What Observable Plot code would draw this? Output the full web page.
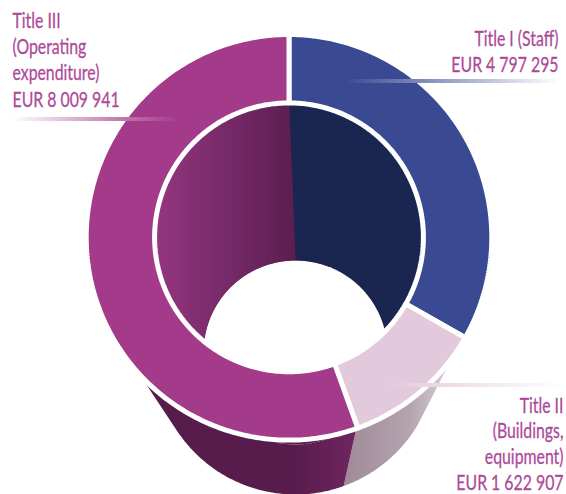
<!DOCTYPE html>
<html>
<head>
<meta charset="utf-8">
<style>
  html, body { margin: 0; padding: 0; background: #fff; }
  svg { display: block; }
</style>
<script src="https://cdn.jsdelivr.net/npm/d3@7"></script>
<script src="https://cdn.jsdelivr.net/npm/@observablehq/plot@0.6"></script>
</head>
<body>
<script>
// Budget by title, EUR
const titles = ["Title I", "Title II", "Title III"];
const amounts = [4797295, 1622907, 8009941];
const captions = [
  ["Title I (Staff)"],
  ["Title II", "(Buildings,", "equipment)"],
  ["Title III", "(Operating", "expenditure)"]
];

// Face and wall colours per title
const faceColors = ["#3a4a92", "#e3c9dc", "#a33b8a"];
const innerWalls = ["#1b2650", null, "url(#inner-purple)"];
const outerWalls = [null, "url(#outer-pale)", "url(#outer-purple)"];
const textColor = "#ac4a98";

// The ring sits on the mouth of a frustum narrowing towards a lower circle
const upperCircle = {cx: 288.5, cy: 236.8};
const lowerCircle = {cx: 295, cy: 352};
const faceOuter = 202.8, faceInner = 134.4, gap = 5;
const wallTop = {outer: 200.3, inner: 134.4};
const wallLow = {outer: 142, inner: 92};

const slices = d3.pie().sort(null).startAngle(0).endAngle(2 * Math.PI)(amounts);

// Points along a circular arc; angles run clockwise from twelve o'clock
function arcPoints(c, r, a0, a1) {
  const n = Math.max(2, Math.ceil(Math.abs(a1 - a0) / 0.015));
  return d3.range(n + 1).map(i => {
    const a = a0 + (a1 - a0) * i / n;
    return [c.cx + r * Math.sin(a), c.cy - r * Math.cos(a)];
  });
}

const rows = (key, paint, pts) => pts.map(([x, y]) => ({key, paint, x, y}));

// Upper faces of the ring
const faces = slices.flatMap((s, i) => rows(titles[i], faceColors[i], [
  ...arcPoints(upperCircle, faceOuter, s.startAngle, s.endAngle),
  ...arcPoints(upperCircle, faceInner, s.endAngle, s.startAngle)
]));

// Outer wall: convex hull of the upper and lower arcs gives the tangent silhouette
const outerRows = slices.flatMap((s, i) => outerWalls[i] == null ? [] :
  rows(titles[i], outerWalls[i], d3.polygonHull([
    ...arcPoints(upperCircle, wallTop.outer, s.startAngle, s.endAngle),
    ...arcPoints(lowerCircle, wallLow.outer, s.startAngle, s.endAngle)
  ])));

// Opening at the bottom of the well
const holeRows = rows("hole", "#fff", arcPoints(lowerCircle, wallLow.inner, 0, 2 * Math.PI));

// Inner wall seen through the ring
const innerRows = slices.flatMap((s, i) => innerWalls[i] == null ? [] :
  rows(titles[i], innerWalls[i], [
    ...arcPoints(upperCircle, wallTop.inner, s.startAngle, s.endAngle),
    ...arcPoints(lowerCircle, wallLow.inner, s.endAngle, s.startAngle)
  ]));

const fmt = d3.formatLocale({decimal: ".", thousands: " ", grouping: [3], currency: ["", ""]}).format(",d");

const labelRows = [
  {lines: [...captions[0], `EUR ${fmt(amounts[0])}`], x: 558, y: 45, step: 26.4, anchor: "end"},
  {lines: [...captions[1], `EUR ${fmt(amounts[1])}`], x: 563, y: 412, step: 25.8, anchor: "end"},
  {lines: [...captions[2], `EUR ${fmt(amounts[2])}`], x: 12, y: 27, step: 26.4, anchor: "start"}
].flatMap(l => l.lines.map((text, i) => ({text, x: l.x, y: l.y + i * l.step, anchor: l.anchor})));

const leaders = [
  {x1: 12, x2: 178, y1: 117, y2: 121, paint: "url(#lead-purple)"},
  {x1: 345, x2: 558, y1: 79, y2: 83, paint: "url(#lead-blue)"},
  {x1: 385, x2: 565, y1: 383, y2: 387, paint: "url(#lead-pale)"}
];

// Gradient definitions shared by the walls and leader rules
function gradient(id, x1, x2, stops) {
  return `<linearGradient id="${id}" gradientUnits="userSpaceOnUse" x1="${x1}" y1="0" x2="${x2}" y2="0">` +
    stops.map(([o, c]) => `<stop offset="${o}" stop-color="${c}"/>`).join("") + `</linearGradient>`;
}
const defs = () => {
  const g = document.createElementNS("http://www.w3.org/2000/svg", "defs");
  g.innerHTML =
    gradient("inner-purple", 157, 296, [[0, "#93357f"], [1, "#5a1e50"]]) +
    gradient("outer-purple", 290, 358, [[0, "#571c4c"], [1, "#702660"]]) +
    gradient("outer-pale", 345, 462, [[0, "#a08a98"], [0.55, "#b5a4af"], [1, "#e4dde2"]]) +
    gradient("lead-purple", 12, 178, [[0, "#ffffff"], [0.67, "#bf76ad"], [1, "#a33b8a"]]) +
    gradient("lead-blue", 345, 558, [[0, "#3a4a92"], [1, "#ffffff"]]) +
    gradient("lead-pale", 385, 565, [[0, "#e3c9dc"], [1, "#ffffff"]]);
  return g;
};

const labelStyle = {
  x: "x", y: "y", text: "text", lineAnchor: "bottom", fill: textColor,
  stroke: textColor, strokeWidth: 0.3,
  fontSize: 22, fontFamily: "Lato, sans-serif"
};

const chart = Plot.plot({
  width: 566,
  height: 494,
  margin: 0,
  x: {domain: [0, 566], range: [0, 566], axis: null},
  y: {domain: [0, 494], range: [0, 494], axis: null},
  color: {type: "identity"},
  marks: [
    defs,
    Plot.line(outerRows, {x: "x", y: "y", z: "key", fill: "paint", stroke: "none", curve: "linear-closed"}),
    Plot.line(holeRows, {x: "x", y: "y", z: "key", fill: "paint", stroke: "none", curve: "linear-closed"}),
    Plot.line(innerRows, {x: "x", y: "y", z: "key", fill: "paint", stroke: "none", curve: "linear-closed"}),
    Plot.line(faces, {x: "x", y: "y", z: "key", fill: "paint", stroke: "#fff", strokeWidth: gap, strokeLinejoin: "miter", curve: "linear-closed"}),
    Plot.rect(leaders, {x1: "x1", x2: "x2", y1: "y1", y2: "y2", fill: "paint"}),
    Plot.text(labelRows.filter(d => d.anchor === "start"), {...labelStyle, textAnchor: "start"}),
    Plot.text(labelRows.filter(d => d.anchor === "end"), {...labelStyle, textAnchor: "end"})
  ]
});
document.body.appendChild(chart);

// The installed faces have no condensed cut, so narrow the captions here
const condense = 0.72;
chart.querySelectorAll("text").forEach(t => {
  const placed = t.getAttribute("transform") || "";
  t.setAttribute("transform", `${placed} scale(${condense},1)`);
});
</script>
</body>
</html>
